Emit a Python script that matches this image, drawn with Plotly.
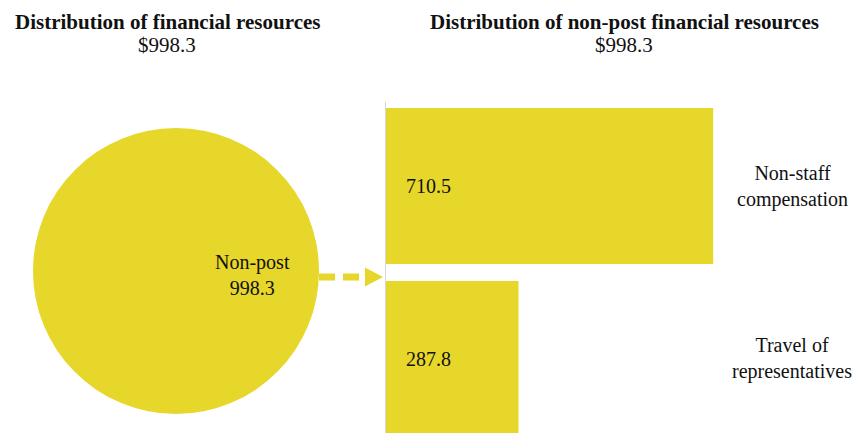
import plotly.graph_objects as go

# ---- data ----
total_label = "Non-post"
total_value = 998.3
categories = ["Non-staff compensation", "Travel of representatives"]
category_text = ["Non-staff<br>compensation", "Travel of<br>representatives"]
values = [710.5, 287.8]
title_left = "Distribution of financial resources"
title_right = "Distribution of non-post financial resources"

# ---- style ----
W, H = 862, 433
YELLOW = "#E6D72A"
FONT = "Times New Roman, Liberation Serif, DejaVu Serif, serif"
TXT = "#111111"


def px(x):
    return x / W


def py(y):
    return 1 - y / H


def txtfont(size):
    return dict(size=size, family=FONT, color=TXT)


fig = go.Figure()

# circle for the single "Non-post" total
fig.add_trace(go.Pie(
    labels=[total_label], values=[total_value],
    marker=dict(colors=[YELLOW], line=dict(width=0)),
    textinfo="none", sort=False, showlegend=False,
    domain=dict(x=[px(33), px(319)], y=[py(414), py(128)]),
    hovertemplate="%{label}: %{value}<extra></extra>",
))

# horizontal bars for the non-post breakdown
fig.add_trace(go.Bar(
    x=values, y=categories, orientation="h",
    marker=dict(color=YELLOW, line=dict(width=0)),
    showlegend=False, xaxis="x", yaxis="y",
    hovertemplate="%{y}: %{x}<extra></extra>",
))

x_max = (W - 386) / 0.4605
fig.update_layout(
    width=W, height=H,
    margin=dict(l=0, r=0, t=0, b=0),
    paper_bgcolor="white", plot_bgcolor="white",
    bargap=0.098,
    xaxis=dict(domain=[px(386), 1], range=[0, x_max], visible=False),
    yaxis=dict(domain=[0, py(102)], range=[1.428, -0.486],
               categoryorder="array", categoryarray=categories,
               showticklabels=False, ticks="", showgrid=False, zeroline=False,
               showline=True, linecolor="#D6D6D6", linewidth=1),
    font=txtfont(20),
)

ann = []
# headings
for cx, t in [(167, title_left), (624, title_right)]:
    ann.append(dict(x=px(cx), y=py(22), xref="paper", yref="paper",
                    xanchor="center", yanchor="middle",
                    text=f"<b>{t}</b>", showarrow=False, font=txtfont(21)))
    ann.append(dict(x=px(cx), y=py(45), xref="paper", yref="paper",
                    xanchor="center", yanchor="middle",
                    text=f"${total_value}", showarrow=False, font=txtfont(21)))

# circle label
ann.append(dict(x=px(252), y=py(275), xref="paper", yref="paper",
                xanchor="center", yanchor="middle",
                text=f"{total_label}<br>{total_value}", showarrow=False,
                font=txtfont(20)))

# bar value labels and category names
for cat, ctext, v in zip(categories, category_text, values):
    ann.append(dict(x=0, y=cat, xref="x", yref="y", text=f"{v}",
                    xanchor="left", yanchor="middle", xshift=18,
                    showarrow=False, font=txtfont(20)))
    ann.append(dict(x=px(792), y=cat, xref="paper", yref="y", text=ctext,
                    xanchor="center", yanchor="middle", showarrow=False,
                    font=txtfont(20)))

fig.update_layout(annotations=ann)

# dashed connector arrow from the circle to the bars
fig.add_shape(type="line", xref="paper", yref="paper",
              x0=px(319), x1=px(364), y0=py(277), y1=py(277),
              line=dict(color=YELLOW, width=7, dash="16px,8px"))
fig.add_shape(type="path", xref="paper", yref="paper",
              path=f"M {px(365)} {py(267.5)} L {px(383)} {py(277)} L {px(365)} {py(286.5)} Z",
              fillcolor=YELLOW, line=dict(width=0))

fig.write_html("out.html")
